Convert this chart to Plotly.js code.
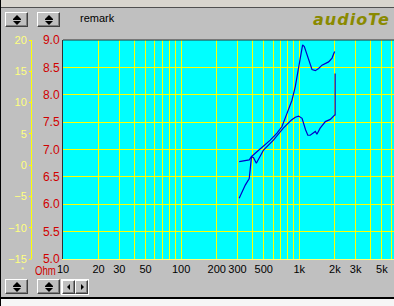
<!DOCTYPE html>
<html>
<head>
<meta charset="utf-8">
<script src="https://cdn.plot.ly/plotly-3.0.1.min.js"></script>
<style>
  html, body { margin:0; padding:0; }
  body { width:394px; height:306px; overflow:hidden; background:#c0c0c0; position:relative; font-family:"Liberation Sans", Arial, sans-serif; }
  .abs { position:absolute; }
  .btn { position:absolute; background:#c0c0c0; box-sizing:border-box;
         border-top:1px solid #ffffff; border-left:1px solid #ffffff;
         border-right:1px solid #404040; border-bottom:1px solid #404040;
         box-shadow: inset -1px -1px 0 #808080; }
  .up { position:absolute; width:0; height:0; border-left:4px solid transparent; border-right:4px solid transparent; border-bottom:4px solid #000; }
  .dn { position:absolute; width:0; height:0; border-left:4px solid transparent; border-right:4px solid transparent; border-top:4px solid #000; }
  .bar { position:absolute; height:1px; background:#000; }
  .lt { position:absolute; width:0; height:0; border-top:3px solid transparent; border-bottom:3px solid transparent; border-right:3px solid #000; }
  .rt { position:absolute; width:0; height:0; border-top:3px solid transparent; border-bottom:3px solid transparent; border-left:3px solid #000; }
</style>
</head>
<body>
<div class="abs" style="left:0;top:0;width:394px;height:7px;background:#d8d5ce;border-bottom:1px solid #505050;"></div>
<div id="chart" class="abs" style="left:0;top:0;width:470px;height:306px;"></div>

<!-- top spinners -->
<div class="btn" style="left:5px;top:12px;width:23px;height:15px;"><div class="up" style="left:7px;top:2px;"></div><div class="bar" style="left:7px;top:6px;width:8px;"></div><div class="dn" style="left:7px;top:8px;"></div></div>
<div class="btn" style="left:37px;top:12px;width:23px;height:15px;"><div class="up" style="left:7px;top:2px;"></div><div class="bar" style="left:7px;top:6px;width:8px;"></div><div class="dn" style="left:7px;top:8px;"></div></div>
<div class="abs" style="left:80px;top:12px;font-size:11px;color:#000;">remark</div>
<div class="abs" style="left:313px;top:10px;font-family:'DejaVu Sans',Verdana,sans-serif;font-weight:bold;font-style:italic;font-size:16px;letter-spacing:1px;color:#8a8a00;white-space:nowrap;">audioTe</div>

<!-- left labels -->
<div class="abs" style="left:21px;top:265px;font-size:8px;color:#ffff80;">*</div>
<div class="abs" style="left:35px;top:266px;font-size:12px;line-height:11px;color:#d00000;transform:scaleX(0.8);transform-origin:left top;">Ohm</div>

<!-- bottom buttons -->
<div class="btn" style="left:5px;top:279px;width:23px;height:15px;"><div class="up" style="left:7px;top:2px;"></div><div class="bar" style="left:7px;top:6px;width:8px;"></div><div class="dn" style="left:7px;top:8px;"></div></div>
<div class="btn" style="left:37px;top:279px;width:23px;height:15px;"><div class="up" style="left:7px;top:2px;"></div><div class="bar" style="left:7px;top:6px;width:8px;"></div><div class="dn" style="left:7px;top:8px;"></div></div>
<div class="abs" style="left:61px;top:279px;width:28px;height:16px;background:#fff;"></div>
<div class="btn" style="left:62px;top:280px;width:13px;height:14px;"><div class="lt" style="left:4px;top:3px;"></div></div>
<div class="btn" style="left:75px;top:280px;width:13px;height:14px;"><div class="rt" style="left:5px;top:3px;"></div></div>

<div class="abs" style="left:0;top:297px;width:394px;height:2px;background:#000;"></div>
<div class="abs" style="left:0;top:299px;width:394px;height:7px;background:#f6f6f6;"></div>
<div class="abs" style="left:0;top:0;width:1px;height:306px;background:#000;"></div>

<script>
// ---- data ----
const freqA = [310, 327, 349, 377, 390, 394, 438, 498, 568, 647, 714, 787, 867, 925, 987, 1034, 1067, 1103, 1163, 1223, 1281, 1367, 1457, 1557, 1661, 1771, 1893, 1991];
const valA  = [6.11, 6.23, 6.35, 6.47, 6.84, 6.87, 6.96, 7.06, 7.17, 7.30, 7.42, 7.66, 7.90, 8.15, 8.51, 8.76, 8.91, 8.88, 8.73, 8.57, 8.46, 8.44, 8.48, 8.54, 8.57, 8.60, 8.67, 8.79];

const freqB = [310, 377, 394, 410, 433, 498, 604, 732, 859, 925, 987, 1055, 1130, 1181, 1237, 1319, 1367, 1409, 1502, 1661, 1830, 1991, 2010, 2010];
const valB  = [6.78, 6.81, 6.87, 6.85, 6.75, 6.99, 7.17, 7.39, 7.54, 7.59, 7.61, 7.57, 7.36, 7.26, 7.26, 7.30, 7.33, 7.28, 7.39, 7.51, 7.55, 7.63, 7.63, 8.39];

const xTickVals = [10, 20, 30, 50, 100, 200, 300, 500, 1000, 2000, 3000, 5000];
const xTickText = ['10', '20', '30', '50', '100', '200', '300', '500', '1k', '2k', '3k', '5k'];
const xGridVals = [40, 60, 70, 80, 90, 400, 600, 700, 800, 900, 4000, 6000, 7000, 8000, 9000, 10000, 20000];
const yTickVals = [5.0, 5.5, 6.0, 6.5, 7.0, 7.5, 8.0, 8.5, 9.0];
const yTickText = ['5.0', '5.5', '6.0', '6.5', '7.0', '7.5', '8.0', '8.5', '9.0'];
const y2TickVals = [-15, -10, -5, 0, 5, 10, 15, 20];

const lineColor = '#0000c8';
const gridYellow = '#ffff00';

const traces = [
  { x: freqA, y: valA, type: 'scatter', mode: 'lines', line: { color: lineColor, width: 1.2 }, hoverinfo: 'skip' },
  { x: freqB, y: valB, type: 'scatter', mode: 'lines', line: { color: lineColor, width: 1.2 }, hoverinfo: 'skip' },
  { x: [], y: [], type: 'scatter', yaxis: 'y2', hoverinfo: 'skip' }
];

const layout = {
  width: 470, height: 306,
  margin: { l: 63, r: 17, t: 40, b: 47 },
  paper_bgcolor: 'rgba(0,0,0,0)',
  plot_bgcolor: '#00ffff',
  showlegend: false,
  font: { family: '"Liberation Sans", Arial, sans-serif' },
  xaxis: {
    type: 'log', range: [1, Math.log10(20000)],
    tickmode: 'array', tickvals: xTickVals, ticktext: xTickText,
    tickfont: { size: 11, color: '#000000' },
    ticks: '', showgrid: true, gridcolor: gridYellow, gridwidth: 1,
    minor: { tickmode: 'array', tickvals: xGridVals, showgrid: true, gridcolor: gridYellow, gridwidth: 1, ticks: '' },
    showline: true, linecolor: '#ffff70', linewidth: 1, zeroline: false
  },
  yaxis: {
    range: [5, 9], tickmode: 'array', tickvals: yTickVals, ticktext: yTickText,
    tickfont: { size: 12, color: '#d00000' },
    ticks: '', showgrid: true, gridcolor: gridYellow, gridwidth: 1,
    showline: true, linecolor: '#303030', linewidth: 1, zeroline: false
  },
  yaxis2: {
    overlaying: 'y', anchor: 'free', position: 0, shift: -32, side: 'left',
    range: [-15, 20], tickmode: 'array', tickvals: y2TickVals,
    tickfont: { size: 11, color: '#ffff80' },
    ticks: 'outside', ticklen: 2, tickcolor: '#ffff00',
    showgrid: false, zeroline: false, showline: true, linecolor: '#ffff00', linewidth: 1
  },
  shapes: [
    { type: 'line', xref: 'paper', yref: 'paper', x0: 0, x1: 1, y0: 1, y1: 1, line: { color: '#303030', width: 1 } }
  ]
};

Plotly.newPlot('chart', traces, layout, { staticPlot: true, displayModeBar: false });
</script>
</body>
</html>
